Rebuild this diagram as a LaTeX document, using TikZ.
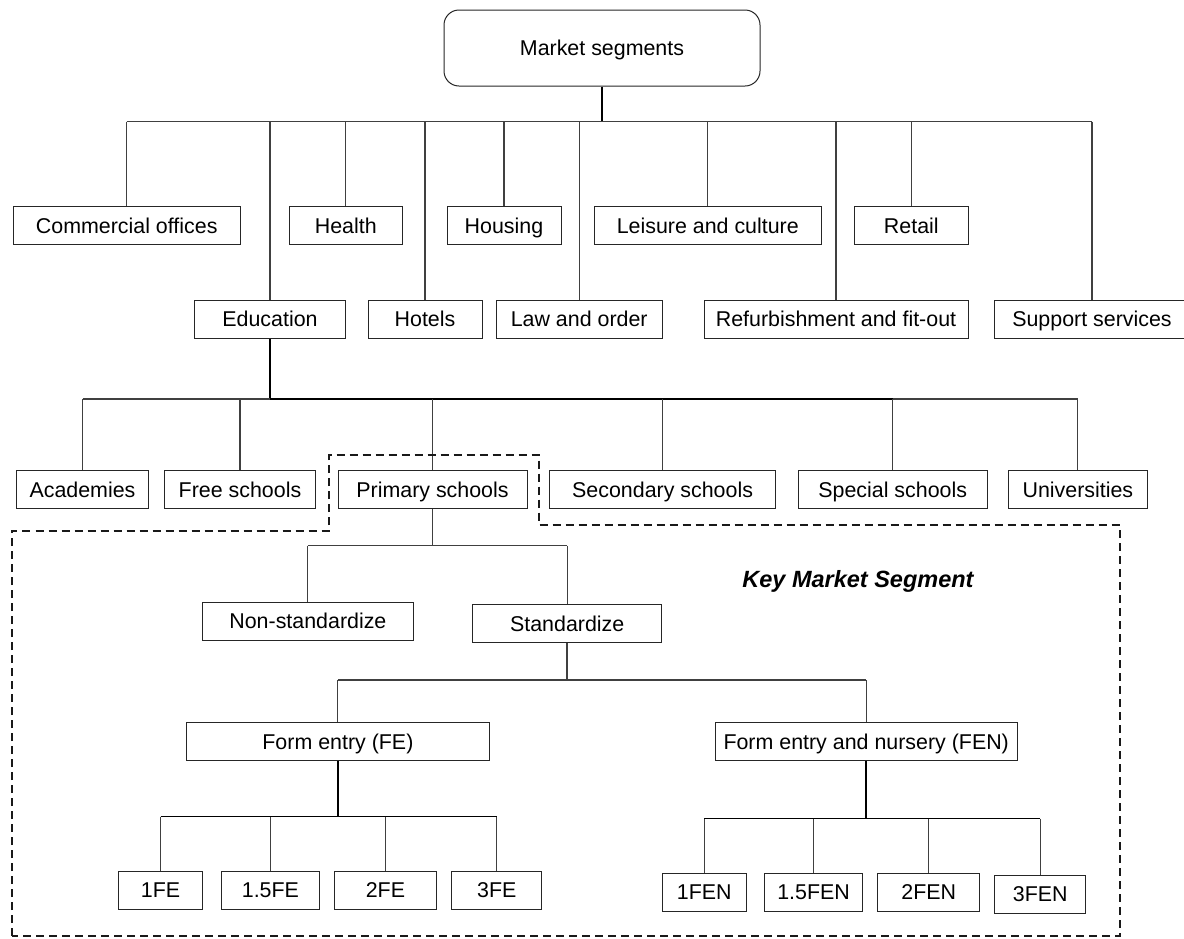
\documentclass[tikz,border=0pt]{standalone}
\usepackage{fontspec}
\setmainfont{Liberation Sans}
\begin{document}
\begin{tikzpicture}[x=1pt,y=-1pt,
  box/.style={draw=black!85, line width=1pt, inner sep=0pt, minimum height=38pt, text height=18.4pt, text depth=3pt, font=\fontsize{21.4}{25}\selectfont},
  busline/.style={draw=black!75, line width=1.1pt},
  stemline/.style={draw=black, line width=2pt},
  keyline/.style={draw=black!90, line width=2pt, dash pattern=on 8pt off 5pt}
]
\useasboundingbox (0,0) rectangle (1184,938);
\clip (0,0) rectangle (1184,938);

% top
\node[box, minimum width=316pt, minimum height=76pt, rounded corners=15pt] (ms) at (602,48) {Market segments};

% row 1
\node[box, minimum width=226.6pt] (co) at (126.7,225.3) {Commercial offices};
\node[box, minimum width=113.6pt] (he) at (345.8,225.3) {Health};
\node[box, minimum width=114pt] (ho) at (504,225.3) {Housing};
\node[box, minimum width=227.5pt] (lc) at (707.8,225.3) {Leisure and culture};
\node[box, minimum width=113.4pt] (re) at (911.3,225.3) {Retail};

% row 2
\node[box, minimum width=151.2pt] (ed) at (270,319.2) {Education};
\node[box, minimum width=114pt] (hot) at (425,319.2) {Hotels};
\node[box, minimum width=166.4pt] (lo) at (579.2,319.2) {Law and order};
\node[box, minimum width=264pt] (rf) at (836,319.2) {Refurbishment and fit-out};
\node[box, minimum width=195pt] (ss) at (1092,319.2) {Support services};

% row 3
\node[box, minimum width=132pt] (ac) at (82.5,489.3) {Academies};
\node[box, minimum width=150.8pt] (fs) at (240,489.3) {Free schools};
\node[box, minimum width=189pt] (ps) at (432.5,489.3) {Primary schools};
\node[box, minimum width=226pt] (se) at (662.6,489.3) {Secondary schools};
\node[box, minimum width=188.6pt] (sp) at (892.7,489.3) {Special schools};
\node[box, minimum width=139.8pt] (un) at (1077.9,489.3) {Universities};

% row 4
\node[box, minimum width=211.7pt] (ns) at (307.9,621.2) {Non-standardize};
\node[box, minimum width=189pt] (st) at (567.2,623.3) {Standardize};

% row 5
\node[box, minimum width=302.2pt] (fe) at (337.9,741.3) {Form entry (FE)};
\node[box, minimum width=302pt] (fen) at (866.2,741.3) {Form entry and nursery (FEN)};

% row 6
\node[box, minimum width=83.8pt] (fe1) at (160.5,890.2) {1FE};
\node[box, minimum width=98.4pt] (fe15) at (270.4,890.2) {1.5FE};
\node[box, minimum width=101.8pt] (fe2) at (385.4,890.2) {2FE};
\node[box, minimum width=90.3pt] (fe3) at (496.8,890.2) {3FE};
\node[box, minimum width=83.6pt] (fen1) at (704.2,892.2) {1FEN};
\node[box, minimum width=98.2pt] (fen15) at (813.6,892.2) {1.5FEN};
\node[box, minimum width=102pt] (fen2) at (928.8,892.2) {2FEN};
\node[box, minimum width=90.5pt] (fen3) at (1040.2,894.2) {3FEN};

% key label
\node[font=\fontsize{23.5}{28}\selectfont\bfseries\itshape] (kms) at (858,581.7) {Key Market Segment};

% bus coordinates
\coordinate (b1) at (0,121.7);
\coordinate (b2) at (0,399);
\coordinate (b3) at (0,545.7);
\coordinate (b4) at (0,680);
\coordinate (b5) at (0,816.7);
\coordinate (b6) at (0,818.7);

% level 1
\draw[stemline] (ms.south) -- (ms.south |- b1);
\draw[busline] (b1 -| co.north) -- (b1 -| ss.north);
\foreach \n in {co,he,ho,lc,re,ed,hot,lo,rf,ss}
  \draw[busline] (b1 -| \n.north) -- (\n.north);

% level 2 (education)
\draw[stemline] (ed.south) -- (ed.south |- b2);
\draw[busline] (b2 -| ac.north) -- (b2 -| un.north);
\draw[stemline, line width=1.6pt] (b2 -| ed.south) -- (b2 -| sp.north);
\foreach \n in {ac,fs,ps,se,sp,un}
  \draw[busline] (b2 -| \n.north) -- (\n.north);

% level 3 (primary)
\draw[busline, line width=1.5pt] (ps.south) -- (ps.south |- b3);
\draw[busline] (b3 -| ns.north) -- (b3 -| st.north);
\foreach \n in {ns,st}
  \draw[busline] (b3 -| \n.north) -- (\n.north);

% level 4 (standardize)
\draw[busline, line width=1.5pt] (st.south) -- (st.south |- b4);
\draw[busline] (b4 -| fe.north) -- (b4 -| fen.north);
\foreach \n in {fe,fen}
  \draw[busline] (b4 -| \n.north) -- (\n.north);

% level 5 (FE)
\draw[stemline] (fe.south) -- (fe.south |- b5);
\draw[busline, draw=black] (b5 -| fe1.north) -- (b5 -| fe3.north);
\foreach \n in {fe1,fe15,fe2,fe3}
  \draw[busline] (b5 -| \n.north) -- (\n.north);

% level 5 (FEN)
\draw[busline, line width=1.5pt, draw=black] (fen.south) -- (fen.south |- b6);
\draw[busline, draw=black] (b6 -| fen1.north) -- (b6 -| fen3.north);
\foreach \n in {fen1,fen15,fen2,fen3}
  \draw[busline] (b6 -| \n.north) -- (\n.north);

% key market segment outline
\draw[keyline] (11.5,936) -- (11.5,531) -- (328.7,531) -- (328.7,455) -- (538.8,455) -- (538.8,525) -- (1119.5,525) -- (1119.5,936) -- cycle;
\end{tikzpicture}
\end{document}
